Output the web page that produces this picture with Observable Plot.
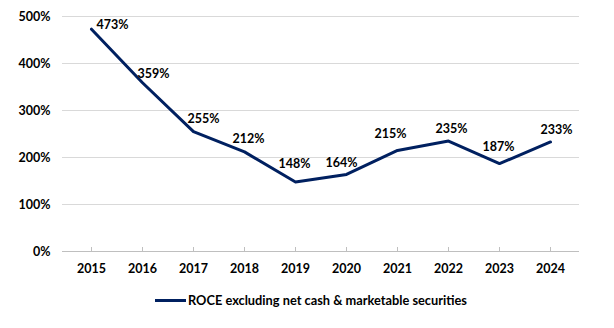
<!DOCTYPE html>
<html>
<head>
<meta charset="utf-8">
<script src="https://cdn.jsdelivr.net/npm/d3@7"></script>
<script src="https://cdn.jsdelivr.net/npm/@observablehq/plot@0.6"></script>
<style>
  body { margin: 0; background: #fff; font-family: Lato, "Open Sans", sans-serif; }
  #legend { display: flex; align-items: center; justify-content: center; height: 30px; margin-left: 8px;
    font-weight: bold; font-size: 12.8px; color: #000; }
  #legend .swatch { width: 31px; height: 3px; background: #002060; margin-right: 2px; }
</style>
</head>
<body>
<div id="chart"></div>
<div id="legend"><span class="swatch"></span><span>ROCE excluding net cash &amp; marketable securities</span></div>
<script>
const years = ["2015","2016","2017","2018","2019","2020","2021","2022","2023","2024"];
const roce = [473, 359, 255, 212, 148, 164, 215, 235, 187, 233];
const seriesName = "ROCE excluding net cash & marketable securities";
const yTicks = [0, 100, 200, 300, 400, 500];
// label offsets (px) mimicking the manually placed data labels
const labelDx = [21, 11, 10, 4, -1, -5, -7, 3, -1, 6];
const labelDy = [-4, -9, -13, -13, -18, -11, -16, -12, -17, -12];

const data = years.map((y, i) => ({year: y, value: roce[i], dx: labelDx[i], dy: labelDy[i]}));

const plot = Plot.plot({
  width: 614,
  height: 285,
  marginLeft: 62,
  marginRight: 35,
  marginTop: 16,
  marginBottom: 34,
  style: {fontFamily: "Lato, 'Open Sans', sans-serif", fontSize: "12.5px", fontWeight: "bold", color: "#000", background: "#fff"},
  x: {type: "point", domain: years, padding: 0.5, label: null},
  y: {type: "linear", domain: [0, 500], label: null},
  marks: [
    Plot.gridY(yTicks, {stroke: "#d9d9d9", strokeOpacity: 1, strokeWidth: 1}),
    Plot.axisY(yTicks, {tickSize: 0, tickPadding: 12, tickFormat: d => d + "%", fill: "#000"}),
    Plot.axisX({tickSize: 0, tickPadding: 13, fill: "#000"}),
    Plot.ruleX(years, {x: d => d, y1: 0, y2: 0, insetTop: -4, stroke: "#bfbfbf"}),
    Plot.ruleY([0], {stroke: "#bfbfbf", strokeWidth: 1}),
    Plot.line(data, {x: "year", y: "value", stroke: "#002060", strokeWidth: 3, strokeLinejoin: "round", strokeLinecap: "round"}),
    ...data.map(d => Plot.text([d], {x: "year", y: "value", text: v => v.value + "%", dx: d.dx, dy: d.dy, fill: "#000", fontWeight: "bold", fontSize: 12.5}))
  ]
});
document.getElementById("chart").appendChild(plot);
</script>
</body>
</html>
